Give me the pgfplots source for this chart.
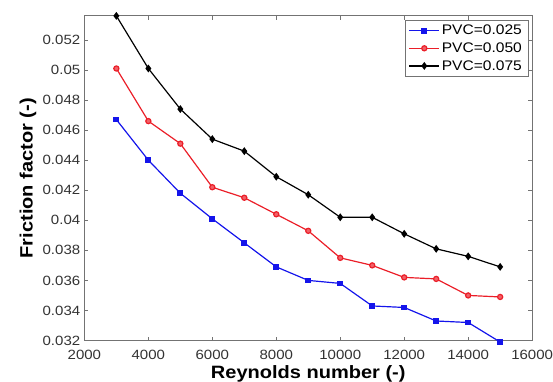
\documentclass[border=0pt]{standalone}
\usepackage{fontspec}
\setmainfont{Liberation Sans}[FakeStretch=1.12]
\usepackage{pgfplots}
\pgfplotsset{compat=1.18}
\definecolor{axgray}{gray}{0.45}
\definecolor{mblue}{RGB}{20,20,235}
\definecolor{mred}{RGB}{235,30,40}
\begin{document}
\begin{tikzpicture}
\begin{axis}[
  scale only axis,
  width=451pt, height=327pt,
  xmin=2000, xmax=16000,
  ymin=0.032, ymax=0.0536,
  clip=false,
  xtick={2000,4000,...,16000},
  ytick={0.032,0.034,0.036,0.038,0.04,0.042,0.044,0.046,0.048,0.05,0.052},
  scaled ticks=false,
  /pgf/number format/assume math mode=true,
  xticklabel style={/pgf/number format/1000 sep={}, inner sep=0pt, yshift=-9pt, font=\fontsize{13.5}{15}\selectfont, text=black!80},
  yticklabel style={/pgf/number format/fixed, /pgf/number format/precision=3, inner sep=0pt, xshift=-4pt, font=\fontsize{13.5}{15}\selectfont, text=black!80},
  tick align=inside,
  major tick length=4pt,
  tick style={axgray, line width=0.6pt},
  axis line style={axgray, line width=0.8pt},
  xlabel={\bfseries Reynolds number (-)},
  ylabel={\bfseries Friction factor (-)},
  xlabel style={font=\fontsize{18}{20}\selectfont, at={(axis description cs:0.5,-0.075)}, anchor=north, inner sep=0pt},
  ylabel style={font=\fontsize{18}{20}\selectfont, at={(axis description cs:-0.107,0.5)}, anchor=south, inner sep=0pt},
  legend style={at={(rel axis cs:0.991,0.988)}, anchor=north east, draw=axgray, line width=0.6pt, fill=white, font=\fontsize{14}{16}\selectfont, inner xsep=4pt, inner ysep=3pt, row sep=2.5pt, cells={anchor=west}},
  legend image code/.code={\draw[mark repeat=2, mark phase=2] plot coordinates {(0pt,0pt) (15pt,0pt) (30pt,0pt)};},
]
\addplot[mblue, line width=1.2pt, mark=square*, mark size=2.3pt, mark options={fill=mblue}] coordinates {
(3000,0.0467) (4000,0.0440) (5000,0.0418) (6000,0.0401) (7000,0.0385) (8000,0.0369) (9000,0.0360) (10000,0.0358) (11000,0.0343) (12000,0.0342) (13000,0.0333) (14000,0.0332) (15000,0.0319)};
\addlegendentry{PVC=0.025}
\addplot[mred, line width=1.2pt, mark=*, mark size=2.6pt, mark options={fill=mred!70!white}] coordinates {
(3000,0.0501) (4000,0.0466) (5000,0.0451) (6000,0.0422) (7000,0.0415) (8000,0.0404) (9000,0.0393) (10000,0.0375) (11000,0.0370) (12000,0.0362) (13000,0.0361) (14000,0.0350) (15000,0.0349)};
\addlegendentry{PVC=0.050}
\addplot[black, line width=1.2pt, mark=diamond*, mark size=3pt, mark options={fill=black}] coordinates {
(3000,0.0536) (4000,0.0501) (5000,0.0474) (6000,0.0454) (7000,0.0446) (8000,0.0429) (9000,0.0417) (10000,0.0402) (11000,0.0402) (12000,0.0391) (13000,0.0381) (14000,0.0376) (15000,0.0369)};
\addlegendentry{PVC=0.075}
\coordinate (sw) at (rel axis cs:0,0);
\end{axis}
\path (sw) ++(-85pt,-40pt) rectangle ++(553pt,383pt);
\end{tikzpicture}
\end{document}
